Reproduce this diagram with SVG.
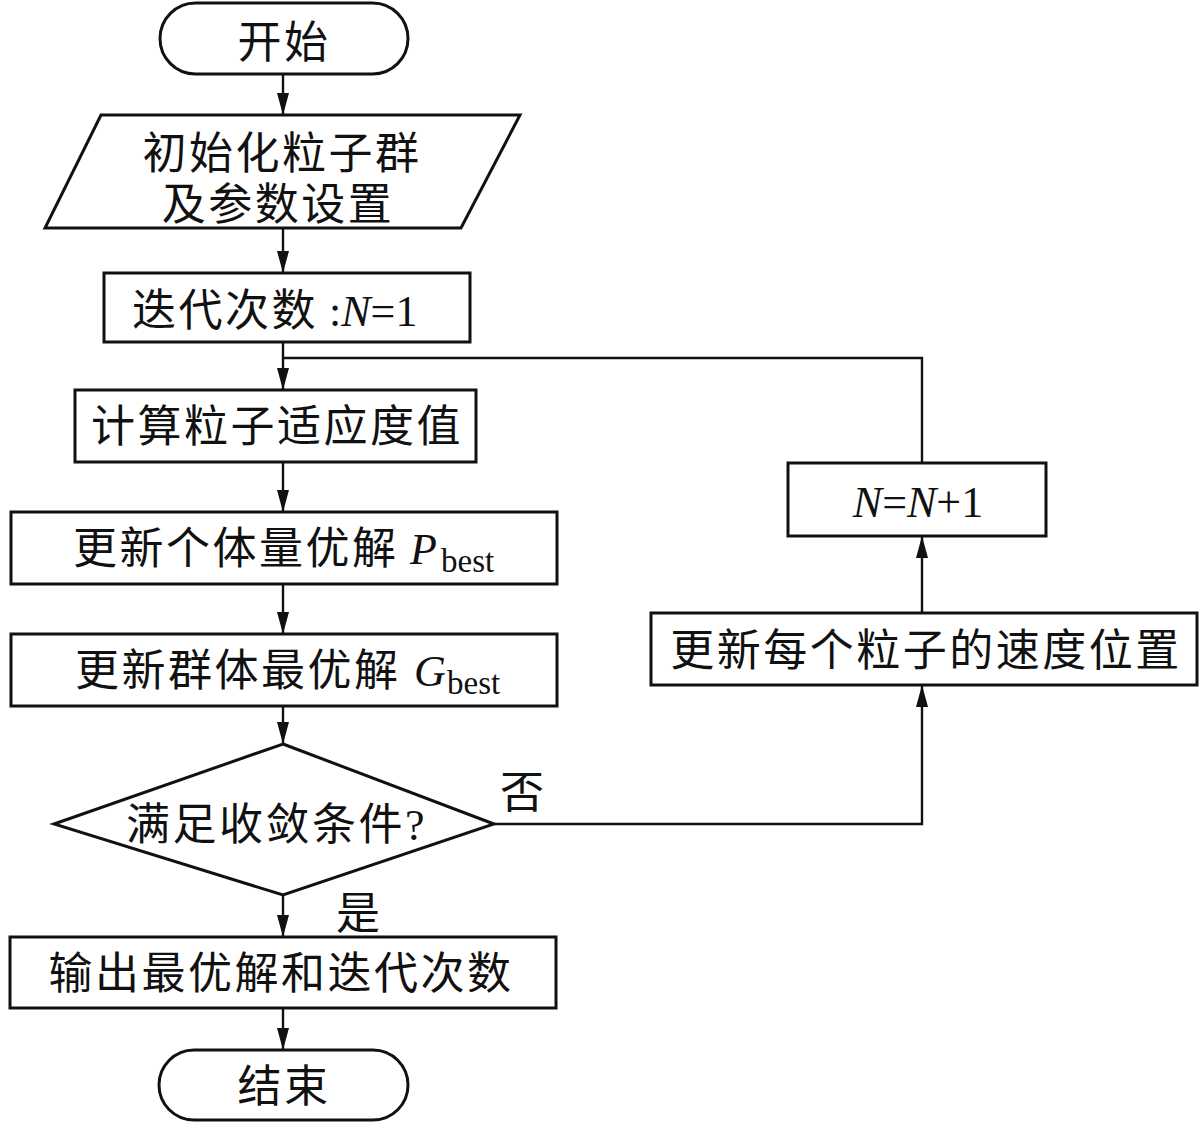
<svg xmlns="http://www.w3.org/2000/svg" width="1200" height="1126" viewBox="0 0 1200 1126">
<defs>
<style>
.shape{fill:#fff;stroke:#111;stroke-width:3}
.conn{fill:none;stroke:#111;stroke-width:2.4}
.t{font-family:"Liberation Serif","Noto Sans CJK SC",serif;font-size:44px;fill:#111}
.cj{letter-spacing:2.5px}
.it{font-style:italic}
.sub{font-size:33px}
</style>
<marker id="arr" markerUnits="userSpaceOnUse" markerWidth="22" markerHeight="12" refX="22" refY="6" orient="auto">
<path d="M0,0 L22,6 L0,12 z" fill="#111"/>
</marker>
</defs>
<rect width="1200" height="1126" fill="#fff"/>
<g id="connectors">
<line class="conn" x1="283" y1="74" x2="283" y2="115" marker-end="url(#arr)"/>
<line class="conn" x1="283" y1="228" x2="283" y2="273" marker-end="url(#arr)"/>
<line class="conn" x1="283" y1="342" x2="283" y2="390" marker-end="url(#arr)"/>
<polyline class="conn" points="922,463 922,358 283,358"/>
<line class="conn" x1="283" y1="462" x2="283" y2="512" marker-end="url(#arr)"/>
<line class="conn" x1="283" y1="584" x2="283" y2="634" marker-end="url(#arr)"/>
<line class="conn" x1="283" y1="706" x2="283" y2="744" marker-end="url(#arr)"/>
<line class="conn" x1="283" y1="895" x2="283" y2="937" marker-end="url(#arr)"/>
<line class="conn" x1="283" y1="1008" x2="283" y2="1050" marker-end="url(#arr)"/>
<polyline class="conn" points="494,824 922,824 922,685" marker-end="url(#arr)"/>
<line class="conn" x1="922" y1="613" x2="922" y2="536" marker-end="url(#arr)"/>
<text class="t" x="522" y="808" text-anchor="middle">否</text>
<text class="t" x="358" y="929" text-anchor="middle">是</text>
</g>
<g id="start">
<rect class="shape" x="160" y="3" width="248" height="71" rx="35.5"/>
<text class="t cj" x="284" y="58" text-anchor="middle">开始</text>
</g>
<g id="init">
<polygon class="shape" points="101,115 520,115 461,228 45,228"/>
<text class="t cj" x="282" y="169" text-anchor="middle">初始化粒子群</text>
<text class="t cj" x="278" y="220" text-anchor="middle">及参数设置</text>
</g>
<g id="iter">
<rect class="shape" x="104" y="273" width="366" height="69"/>
<text class="t" x="132" y="326"><tspan class="cj">迭代次数</tspan> :<tspan class="it">N</tspan>=1</text>
</g>
<g id="fitness">
<rect class="shape" x="75" y="390" width="401" height="72"/>
<text class="t cj" x="277" y="442" text-anchor="middle">计算粒子适应度值</text>
</g>
<g id="pbest">
<rect class="shape" x="11" y="512" width="546" height="72"/>
<text class="t" x="73" y="564"><tspan class="cj">更新个体量优解</tspan><tspan class="it" x="410">P</tspan><tspan class="sub" x="441" dy="8">best</tspan></text>
</g>
<g id="gbest">
<rect class="shape" x="11" y="634" width="546" height="72"/>
<text class="t" x="75" y="686"><tspan class="cj">更新群体最优解</tspan><tspan class="it" x="414">G</tspan><tspan class="sub" x="447" dy="8">best</tspan></text>
</g>
<g id="decision">
<polygon class="shape" points="283,744 494,824 283,895 54,824"/>
<text class="t" x="126" y="840"><tspan class="cj">满足收敛条件</tspan>?</text>
</g>
<g id="output">
<rect class="shape" x="10" y="937" width="546" height="71"/>
<text class="t cj" x="281" y="989" text-anchor="middle">输出最优解和迭代次数</text>
</g>
<g id="end">
<rect class="shape" x="159" y="1050" width="249" height="70" rx="35"/>
<text class="t cj" x="284" y="1102" text-anchor="middle">结束</text>
</g>
<g id="update">
<rect class="shape" x="651" y="613" width="546" height="72"/>
<text class="t cj" x="926" y="666" text-anchor="middle">更新每个粒子的速度位置</text>
</g>
<g id="increment">
<rect class="shape" x="788" y="463" width="258" height="73"/>
<text class="t" x="918" y="517" text-anchor="middle"><tspan class="it">N</tspan>=<tspan class="it">N</tspan>+1</text>
</g>
</svg>
